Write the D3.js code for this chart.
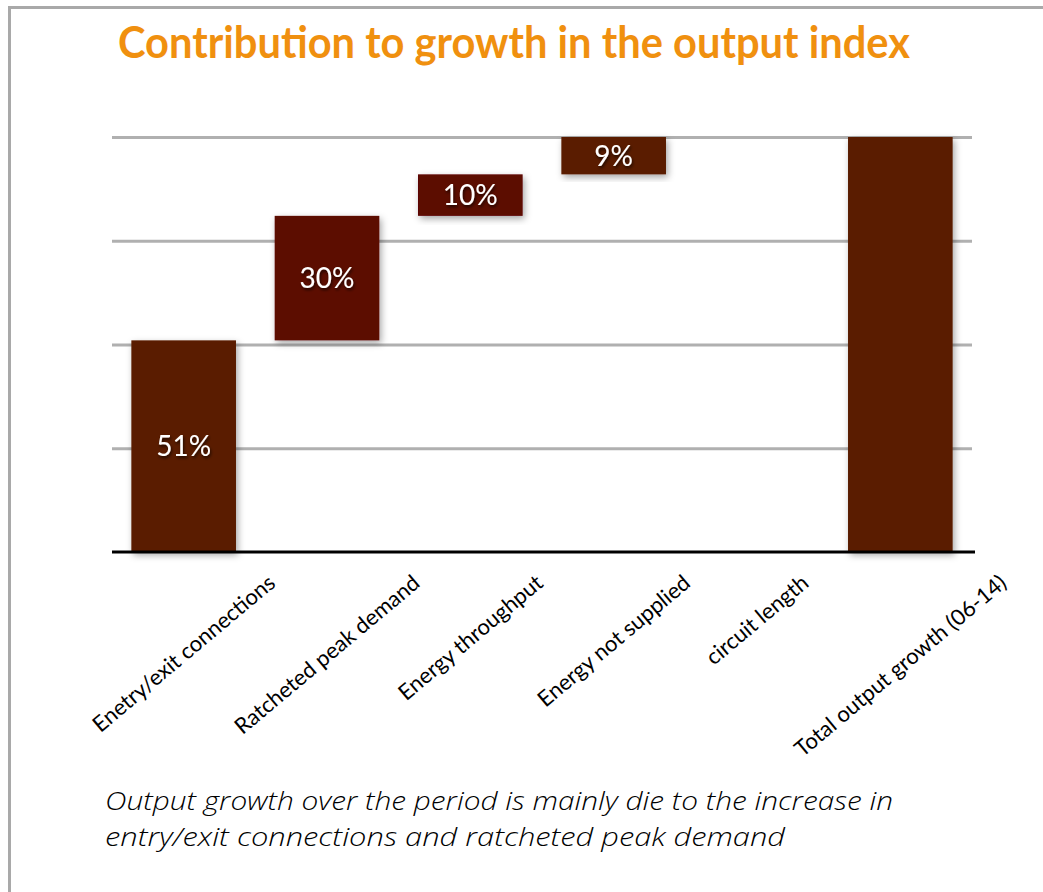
<!DOCTYPE html>
<html>
<head>
<meta charset="utf-8">
<script src="https://cdn.jsdelivr.net/npm/d3@7"></script>
<style>
  body { margin: 0; background: #fff; }
  svg { display: block; }
</style>
</head>
<body>
<div id="chart"></div>
<script>
// chart values
var categories = ["Enetry/exit connections", "Ratcheted peak demand", "Energy throughput",
                  "Energy not supplied", "circuit length", "Total output growth (06-14)"];
var values = [51, 30, 10, 9, 0, 100];
var isTotal = [false, false, false, false, false, true];
var barLabels = ["51%", "30%", "10%", "9%", "", ""];
var yTicks = [0, 25, 50, 75, 100];
var title = "Contribution to growth in the output index";
var captionLines = ["Output growth over the period is mainly die to the increase in",
                    "entry/exit connections and ratcheted peak demand"];

var W = 1043, H = 892;
var margin = { top: 137, left: 112, bottom: 340, right: 71 };

var svg = d3.select("#chart").append("svg")
    .attr("width", W)
    .attr("height", H);

var defs = svg.append("defs");
var shadow = defs.append("filter").attr("id", "shadow")
    .attr("x", "-20%").attr("y", "-20%").attr("width", "140%").attr("height", "140%");
shadow.append("feDropShadow")
    .attr("dx", 2).attr("dy", 3).attr("stdDeviation", 3.5)
    .attr("flood-color", "#000").attr("flood-opacity", 0.35);
var txtShadow = defs.append("filter").attr("id", "txtshadow");
txtShadow.append("feDropShadow")
    .attr("dx", 1).attr("dy", 2).attr("stdDeviation", 1.5)
    .attr("flood-color", "#000").attr("flood-opacity", 0.7);

// frame
svg.append("path")
    .attr("d", "M9.5," + H + "V7.5H" + W)
    .attr("fill", "none")
    .attr("stroke", "#a9a9a9")
    .attr("stroke-width", 3);

// title
svg.append("text")
    .attr("x", 118)
    .attr("y", 58)
    .attr("textLength", 792)
    .attr("lengthAdjust", "spacingAndGlyphs")
    .style("font-family", "Lato, 'DejaVu Sans', sans-serif")
    .style("font-weight", "bold")
    .style("font-size", "44px")
    .attr("fill", "#f0900f")
    .text(title);

var x = d3.scaleBand()
    .domain(categories)
    .range([margin.left, W - margin.right])
    .paddingInner(0.27)
    .paddingOuter(0.135);

var y = d3.scaleLinear()
    .domain([0, 100])
    .range([H - margin.bottom, margin.top]);

// gridlines
var grid = svg.append("g")
    .attr("transform", "translate(" + margin.left + ",0)")
    .call(d3.axisLeft(y).tickValues(yTicks.slice(1)).tickSize(-(W - margin.right - margin.left)).tickFormat(""));
grid.select(".domain").remove();
grid.selectAll("line")
    .attr("stroke", "#b0b0b0")
    .attr("stroke-width", 3);

// waterfall bases
var bases = [];
var run = 0;
values.forEach(function (v, i) {
    if (isTotal[i]) { bases.push(0); }
    else { bases.push(run); run += v; }
});
var data = categories.map(function (c, i) {
    return { cat: c, value: values[i], base: bases[i], label: barLabels[i], i: i };
});
var barColors = ["#5a1e00", "#5c0700", "#5c0700", "#5a1e00", "#5a1e00", "#5a1e00"];

svg.append("g")
    .selectAll("rect")
    .data(data.filter(function (d) { return d.value > 0; }))
    .enter()
    .append("rect")
    .attr("x", function (d) { return x(d.cat); })
    .attr("y", function (d) { return y(d.base + d.value); })
    .attr("width", x.bandwidth())
    .attr("height", function (d) { return y(d.base) - y(d.base + d.value); })
    .attr("fill", function (d) { return barColors[d.i]; })
    .attr("filter", "url(#shadow)");

svg.append("g")
    .selectAll("text")
    .data(data.filter(function (d) { return d.label; }))
    .enter()
    .append("text")
    .attr("x", function (d) { return x(d.cat) + x.bandwidth() / 2; })
    .attr("y", function (d) { return (y(d.base) + y(d.base + d.value)) / 2; })
    .attr("dy", "0.36em")
    .attr("text-anchor", "middle")
    .attr("fill", "#fff")
    .attr("filter", "url(#txtshadow)")
    .style("font-family", "Lato, sans-serif")
    .style("font-size", "28px")
    .text(function (d) { return d.label; });

// x axis
var xAxisGroup = svg.append("g")
    .attr("transform", "translate(0," + y(0) + ")")
    .call(d3.axisBottom(x).tickSize(0));
xAxisGroup.select(".domain")
    .attr("d", "M" + margin.left + ",0H" + (W - margin.right + 3))
    .attr("stroke", "#000")
    .attr("stroke-width", 3);

var ang = 40 * Math.PI / 180;
var fs = 22;
xAxisGroup.selectAll("text")
    .style("font-family", "Lato, sans-serif")
    .style("font-size", fs + "px")
    .attr("fill", "#000")
    .attr("text-anchor", "middle")
    .attr("y", 0)
    .attr("dy", "0.35em")
    .attr("transform", function () {
        var w = this.getComputedTextLength();
        var half = (w * Math.sin(ang) + fs * Math.cos(ang)) / 2;
        return "translate(0," + (19 + half) + ") rotate(-40)";
    });

// caption
svg.append("g")
    .selectAll("text")
    .data(captionLines)
    .enter()
    .append("text")
    .attr("x", 105)
    .attr("y", function (d, i) { return 810 + i * 36; })
    .attr("textLength", function (d, i) { return i === 0 ? 788 : 680; })
    .attr("lengthAdjust", "spacingAndGlyphs")
    .style("font-family", "'Open Sans', sans-serif")
    .style("font-style", "italic")
    .style("font-weight", 300)
    .style("font-size", "25px")
    .attr("fill", "#000")
    .text(function (d) { return d; });
</script>
</body>
</html>
